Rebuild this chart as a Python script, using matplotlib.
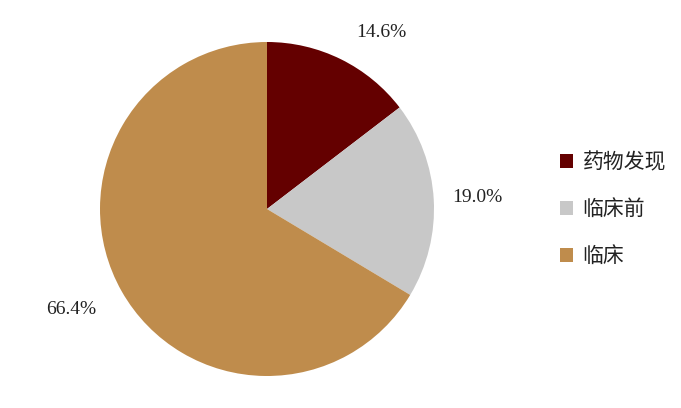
import numpy as np
import matplotlib.pyplot as plt
from matplotlib.patches import Patch

plt.rcParams["font.family"] = ["Noto Sans CJK SC", "DejaVu Sans"]

labels = ["药物发现", "临床前", "临床"]
shares = [14.6, 19.0, 66.4]
colors = ["#640000", "#C8C8C8", "#BF8C4C"]
# small angle/radius nudges for the outside labels (degrees, radius units)
label_shift = [-6.5, 0.0, -2.4]
label_dist = [1.26, 1.26, 1.32]

fig = plt.figure(figsize=(6.81, 4.08), dpi=100)
fig.patch.set_facecolor("white")
ax = fig.add_axes([100 / 681, 32 / 408, 334 / 681, 334 / 408])

wedges, _ = ax.pie(shares, colors=colors, startangle=90, counterclock=False,
                   radius=1.0, wedgeprops=dict(linewidth=0))

for w, v, sh, d in zip(wedges, shares, label_shift, label_dist):
    ang = np.deg2rad((w.theta1 + w.theta2) / 2 + sh)
    ax.text(d * np.cos(ang), d * np.sin(ang), f"{v:.1f}%",
            ha="center", va="center", fontsize=14,
            family=["Liberation Serif", "DejaVu Serif"], color="#222222")

ax.set_xlim(-1, 1)
ax.set_ylim(-1, 1)
ax.set_aspect("equal")
ax.axis("off")

handles = [Patch(facecolor=c, edgecolor="none") for c in colors]
fig.legend(handles, labels, loc="center left", bbox_to_anchor=(541 / 681, 0.488),
           frameon=False, fontsize=15, handlelength=0.65, handleheight=0.65,
           handletextpad=0.45, labelspacing=1.2, labelcolor="#222222")

fig.savefig("out.png", dpi=100, facecolor="white")
